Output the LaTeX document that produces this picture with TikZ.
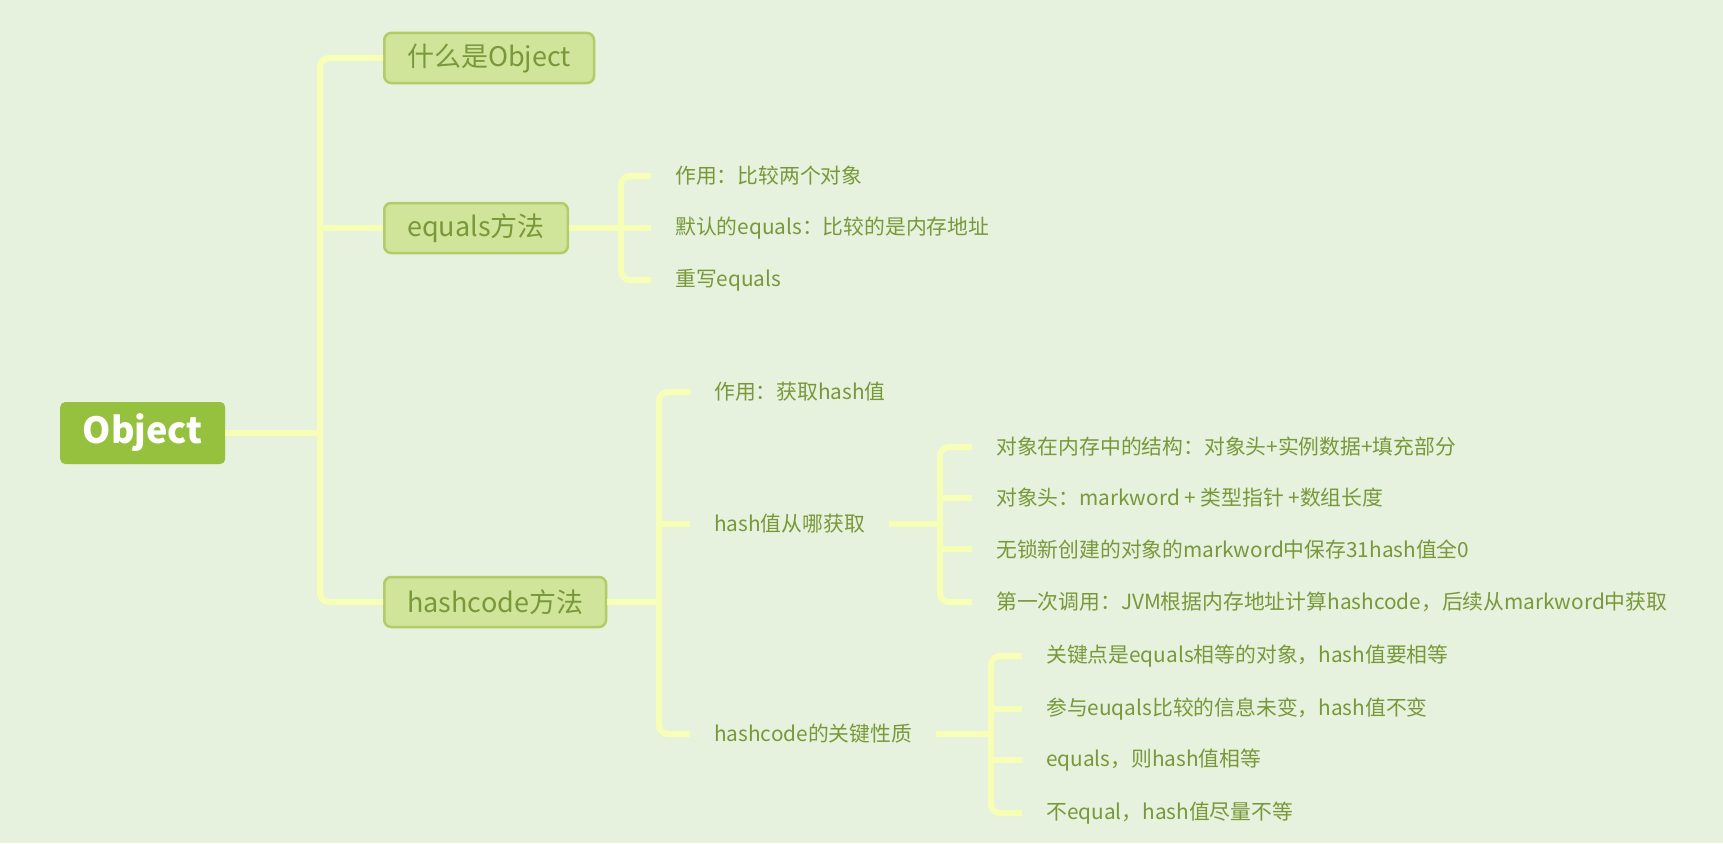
\documentclass[tikz,border=0pt]{standalone}
\usepackage{fontspec}
\setmainfont{Noto Sans CJK SC}
\usetikzlibrary{positioning}
\definecolor{bgcol}{RGB}{230,242,221}
\definecolor{rootcol}{RGB}{149,193,63}
\definecolor{boxcol}{RGB}{208,229,154}
\definecolor{boxline}{RGB}{178,204,104}
\definecolor{txtcol}{RGB}{120,152,58}
\definecolor{linkcol}{RGB}{247,255,183}

\begin{document}
\begin{tikzpicture}[x=1pt,y=-1pt,
    rootbox/.style={fill=rootcol, rounded corners=5pt, text=white, font=\fontsize{36}{40}\selectfont\bfseries,
      minimum width=165pt, minimum height=62pt, inner sep=0pt, anchor=west},
    topicbox/.style={fill=boxcol, draw=boxline, line width=2.5pt, rounded corners=7pt, text=txtcol,
      font=\fontsize{27}{30}\selectfont, minimum height=50pt, inner xsep=23pt, inner ysep=0pt, anchor=west},
    leaf/.style={text=txtcol, font=\fontsize{20.8}{24}\selectfont, inner xsep=24pt, inner ysep=2pt, anchor=west},
    link/.style={draw=linkcol, line width=6pt, rounded corners=9pt}]
  \fill[bgcol] (0,0) rectangle (1723,843);
  \useasboundingbox (0,0) rectangle (1723,843);

  \node[rootbox] (root) at (60,433) {Object};
  \node[topicbox] (what) at (383,58) {什么是Object};
  \node[topicbox] (equals) at (383,228) {equals方法};
  \node[topicbox] (hashcode) at (383,602) {hashcode方法};

  \node[leaf] (eq1) at (651,176) {作用：比较两个对象};
  \node[leaf] (eq2) at (651,228) {默认的equals：比较的是内存地址};
  \node[leaf] (eq3) at (651,280) {重写equals};

  \node[leaf] (hc1) at (690,392) {作用：获取hash值};
  \node[leaf] (hc2) at (690,524) {hash值从哪获取};
  \node[leaf] (hc3) at (690,734) {hashcode的关键性质};

  \node[leaf] (src1) at (972,447) {对象在内存中的结构：对象头+实例数据+填充部分};
  \node[leaf] (src2) at (972,498) {对象头：markword + 类型指针 +数组长度};
  \node[leaf] (src3) at (972,549) {无锁新创建的对象的markword中保存31hash值全0};
  \node[leaf] (src4) at (972,602) {第一次调用：JVM根据内存地址计算hashcode，后续从markword中获取};

  \node[leaf] (key1) at (1022,656) {关键点是equals相等的对象，hash值要相等};
  \node[leaf] (key2) at (1022,709) {参与euqals比较的信息未变，hash值不变};
  \node[leaf] (key3) at (1022,760) {equals，则hash值相等};
  \node[leaf] (key4) at (1022,813) {不equal，hash值尽量不等};

  \coordinate (f0) at (320,433);
  \coordinate (f1) at (621,228);
  \coordinate (f2) at (659,602);
  \coordinate (f3) at (940,524);
  \coordinate (f4) at (991,734);

  \draw[link] (what.west) -| (f0) |- (hashcode.west);
  \draw[link] (root.east) -- (f0);
  \draw[link] (equals.west) -- (equals.west -| f0);

  \draw[link] (eq1.west) -| (f1) |- (eq3.west);
  \draw[link] (equals.east) -- (f1);
  \draw[link] (eq2.west) -- (eq2.west -| f1);

  \draw[link] (hc1.west) -| (f2) |- (hc3.west);
  \draw[link] (hashcode.east) -- (f2);
  \draw[link] (hc2.west) -- (hc2.west -| f2);

  \draw[link] (src1.west) -| (f3) |- (src4.west);
  \draw[link] (hc2.east) -- (f3);
  \draw[link] (src2.west) -- (src2.west -| f3);
  \draw[link] (src3.west) -- (src3.west -| f3);

  \draw[link] (key1.west) -| (f4) |- (key4.west);
  \draw[link] (hc3.east) -- (f4);
  \draw[link] (key2.west) -- (key2.west -| f4);
  \draw[link] (key3.west) -- (key3.west -| f4);
\end{tikzpicture}
\end{document}
